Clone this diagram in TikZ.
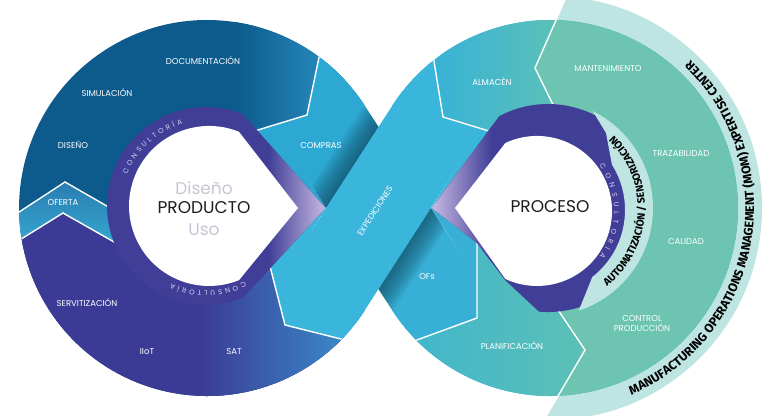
\documentclass[tikz,border=0pt]{standalone}
\usepackage{fontspec}
\setmainfont{Poppins}
\newfontfamily\momfont{Fira Sans}
\usetikzlibrary{positioning,decorations.text}
\definecolor{docdark}{HTML}{0D5A8C}
\definecolor{doclight}{HTML}{2C93C5}
\definecolor{servdark}{HTML}{3B3B95}
\definecolor{servlight}{HTML}{3A8CCB}
\definecolor{ofetop}{HTML}{2B7CB2}
\definecolor{ofebot}{HTML}{37B5D9}
\definecolor{compras}{HTML}{2DA8D2}
\definecolor{expcol}{HTML}{3AB5DB}
\definecolor{ofscol}{HTML}{37AFD6}
\definecolor{shadowcol}{HTML}{0E3F55}
\definecolor{almleft}{HTML}{39B3D5}
\definecolor{almright}{HTML}{5EC1B6}
\definecolor{planleft}{HTML}{3FB5CC}
\definecolor{planright}{HTML}{5CC0B6}
\definecolor{momteal}{HTML}{6CC4B1}
\definecolor{palecol}{HTML}{BEE5E1}
\definecolor{purp}{HTML}{403E97}
\definecolor{lavender}{HTML}{C9BBE3}
\definecolor{constxt}{HTML}{D6D1F2}
\definecolor{holegray}{HTML}{C6C6D2}
\definecolor{holedark}{HTML}{1D1D1D}

\begin{document}
\begin{tikzpicture}[x=1pt,y=1pt,
    lbl/.style={text=white,font=\fontsize{8.5}{10}\selectfont,inner sep=0pt},
    sep/.style={draw=white,line width=1.4pt},
    holetxt/.style={font=\fontsize{17}{18}\selectfont,inner sep=0pt},
    cons/.style={decorate,decoration={text along path,text align=fit to path,
      text={|\fontsize{7}{7}\selectfont\color{constxt}|CONSULTORÍA}}}]
\useasboundingbox (0,0) rectangle (770,415);

% MOM band
\begin{scope}
  \clip (0,0) rectangle (770,415);
  \clip (567,420) -- (535,347) -- (563,290) -- (585,240) -- (585,150) -- (540,135) -- (548,120) -- (585,65) -- (541,-10) -- (780,-10) -- (780,420) -- cycle;
  \fill[palecol] (550,207) circle[radius=212];
\end{scope}

% left loop
\begin{scope}
  \clip (364.9,309.1) arc[start angle=32.9,end angle=327.1,radius=188] -- (290.97,152.69) -- (325.4,207) -- (290.97,261.31) -- cycle;
  \fill[docdark] (0,0) rectangle (400,415);
  \shade[left color=docdark,right color=doclight] (235,207) rectangle (345,415);
  \fill[servdark] (0,0) -- (0,162.8) -- (63,202) -- (150,152.6) -- (262,180) -- (285,90) -- (355,72.5) -- (360,0) -- cycle;
  \shade[left color=servdark,right color=servlight] (200,0) rectangle (350,180);
  \shade[top color=ofetop,bottom color=ofebot] (0,190.5) -- (65,233) -- (140,190) -- (150,152.6) -- (63,202) -- (0,162.8) -- cycle;
  \fill[compras] (225,275) -- (307,300) -- (322,372) -- (420,420) -- (420,207) -- (225,207) -- cycle;
  \fill[expcol] (262,207) -- (262,180) -- (285,90) -- (355,72.5) -- (420,-10) -- (420,207) -- cycle;
  \draw[sep] (322,372) -- (307,300) -- (225,275);
  \draw[sep] (0,190.5) -- (65,233) -- (140,190);
  \draw[sep] (0,162.8) -- (63,202) -- (150,152.6);
  \draw[sep] (262,180) -- (285,90) -- (355,72.5);
\end{scope}

% right loop
\begin{scope}
  \clip (392.1,309.1) arc[start angle=147.1,end angle=-147.1,radius=188] -- (466.03,152.69) -- (431.6,207) -- (466.03,261.31) -- cycle;
  \fill[almleft] (380,0) rectangle (760,415);
  \shade[left color=almleft,right color=almright] (440,207) rectangle (565,415);
  \fill[expcol] (300,207) -- (300,420) -- (430,420) -- (431,372) -- (443,298) -- (515,276) -- (515,207) -- cycle;
  \fill[momteal] (567,420) -- (535,347) -- (563,290) -- (585,240) -- (585,150) -- (540,135) -- (548,120) -- (585,65) -- (541,-10) -- (780,-10) -- (780,420) -- cycle;
  \shade[left color=planleft,right color=planright] (477,190) -- (477,97) -- (410,72.5) -- (400,-10) -- (541,-10) -- (585,65) -- (548,120) -- (530,190) -- cycle;
  \fill[ofscol] (300,207) -- (477,207) -- (477,97) -- (410,72.5) -- (400,-10) -- (300,-10) -- cycle;
  \draw[sep] (431,372) -- (443,298) -- (515,276);
  \draw[sep] (477,190) -- (477,97) -- (410,72.5);
\end{scope}

\begin{scope}
  \clip (0,0) rectangle (770,415);
  \clip (550,207) circle[radius=212];
  \draw[sep] (567,420) -- (535,347) -- (563,290) -- (575,265);
  \draw[sep] (540,135) -- (548,120) -- (585,65) -- (541,-10);
\end{scope}

% crossing bands
\begin{scope}[shift={(378.5,207)},rotate=-57.1]
  \fill[compras] (-95,-44) rectangle (0.5,44);
  \fill[ofscol] (0,-44) rectangle (95,44);
\end{scope}
\begin{scope}
  \clip (290.97,261.31) -- (392.1,104.9) -- (466.03,152.69) -- (364.9,309.1) -- cycle;
  \begin{scope}[shift={(378.5,207)},rotate=57.1]
    \foreach \i in {1,...,12} {
      \fill[shadowcol,opacity=0.07] (-120,44) rectangle (120,44+2*\i);
      \fill[shadowcol,opacity=0.07] (-120,-44) rectangle (120,-44-2*\i);
    }
  \end{scope}
\end{scope}
\begin{scope}[shift={(378.5,207)},rotate=57.1]
  \fill[expcol] (-95,-44) rectangle (95,44);
\end{scope}

% purple rings
\fill[purp] (325.4,207) -- (243.1,300.8) arc[start angle=68,end angle=292,radius=99] -- cycle;
\begin{scope}
  \clip (325.4,207) -- (243.1,300.8) arc[start angle=68,end angle=292,radius=99] -- cycle;
  \shade[left color=purp,right color=lavender] (268,110) rectangle (326,305);
\end{scope}
\fill[purp] (431.6,207) -- (499.2,298.8) arc[start angle=118,end angle=-95,radius=104] -- (505,135) -- (477,172) -- cycle;
\begin{scope}
  \clip (431.6,207) -- (499.2,298.8) arc[start angle=118,end angle=-95,radius=104] -- (505,135) -- (477,172) -- cycle;
  \shade[left color=lavender,right color=purp] (431,110) rectangle (492,305);
\end{scope}
\begin{scope}
  \clip (583,320) -- (606,282) -- (620,207) -- (575,95) -- (720,95) -- (720,320) -- cycle;
  \fill[palecol,even odd rule] (545,207) circle[radius=108] (540,205) circle[radius=85];
\end{scope}

% holes
\fill[white] (298,207) -- (239,283.2) arc[start angle=68,end angle=292,radius=80] -- cycle;
\fill[white] (455,207) -- (505.3,272) arc[start angle=115,end angle=-115,radius=75] -- cycle;

\node[lbl] (doc) at (203,354) {DOCUMENTACIÓN};
\node[lbl] (sim) at (107,322) {SIMULACIÓN};
\node[lbl] (dis) at (73,270) {DISEÑO};
\node[lbl] (ofe) at (63,212) {OFERTA};
\node[lbl] (ser) at (87,112) {SERVITIZACIÓN};
\node[lbl] (iot) at (147,63) {IIoT};
\node[lbl] (sat) at (234,63) {SAT};
\node[lbl] (com) at (321,269) {COMPRAS};
\node[lbl,rotate=57.1] (exp) at (375,204) {EXPEDICIONES};
\node[lbl] (alm) at (492,333) {ALMACÉN};
\node[lbl] (ofs) at (427,138) {OFs};
\node[lbl] (pla) at (512,69) {PLANIFICACIÓN};
\node[lbl] (man) at (608,346) {MANTENIMIENTO};
\node[lbl] (tra) at (681,261) {TRAZABILIDAD};
\node[lbl] (cal) at (686,173) {CALIDAD};
\node[lbl,align=center] (con) at (642,91) {CONTROL\\PRODUCCIÓN};

\node[holetxt,text=holedark] (prod) at (204,207) {PRODUCTO};
\node[holetxt,text=holegray,above=7pt of prod] (dise) {Diseño};
\node[holetxt,text=holegray,below=9pt of prod] (uso) {Uso};
\node[holetxt,text=holedark] (proc) at (550,208) {PROCESO};

\path[cons,shift={(206,209)}] (158:85) arc[start angle=158,end angle=106,radius=85];
\path[cons,shift={(206,209)}] (-63:85) arc[start angle=-63,end angle=-114,radius=85];
\path[cons,shift={(537,204)}] (36:77) arc[start angle=36,end angle=-36,radius=77];

\path[shift={(545,207)},decorate,decoration={text along path,text align=center,
  text={|\momfont\bfseries\fontsize{10.5}{11}\selectfont|AUTOMATIZACIÓN / SENSORIZACIÓN}}]
  (-65:100) arc[start angle=-65,end angle=60,radius=100];
\path[shift={(550,207)},decorate,decoration={text along path,text align=center,
  text={|\momfont\bfseries\fontsize{12.5}{13}\selectfont|MANUFACTURING OPERATIONS MANAGEMENT (MOM) EXPERTISE CENTER}}]
  (-85:204) arc[start angle=-85,end angle=65,radius=204];
\end{tikzpicture}
\end{document}
